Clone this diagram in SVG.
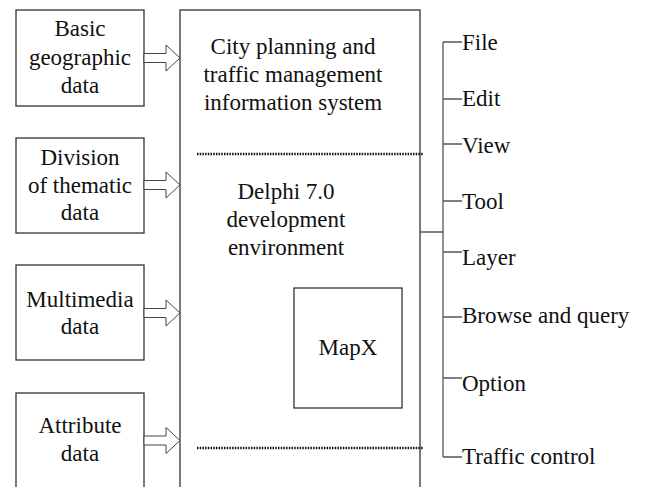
<svg xmlns="http://www.w3.org/2000/svg" width="646" height="487" viewBox="0 0 646 487">
<style>
.box{fill:#fff;stroke:#333;stroke-width:1.3}
.t{font-family:"Liberation Serif","Times New Roman",serif;font-size:23px;fill:#111}
.c{text-anchor:middle}
.arr{fill:#fff;stroke:#444;stroke-width:1}
.ln{fill:none;stroke:#555;stroke-width:1.3}
.dot{fill:none;stroke:#111;stroke-width:2.5;stroke-dasharray:1.5 1.2}
</style>
<rect width="646" height="487" fill="#fff"/>
<g id="main">
<rect class="box" x="180" y="10" width="240" height="490"/>
<text class="t c" x="293" y="54">City planning and</text>
<text class="t c" x="293" y="82">traffic management</text>
<text class="t c" x="293" y="110">information system</text>
<line class="dot" x1="197" y1="154" x2="423" y2="154"/>
<text class="t c" x="286" y="199">Delphi 7.0</text>
<text class="t c" x="286" y="227">development</text>
<text class="t c" x="286" y="255">environment</text>
<line class="dot" x1="197" y1="448" x2="423" y2="448"/>
</g>
<g id="mapx">
<rect class="box" x="294" y="288" width="108" height="120"/>
<text class="t c" x="348" y="355">MapX</text>
</g>
<g id="basic">
<rect class="box" x="16" y="10" width="128" height="96"/>
<text class="t c" x="80" y="36">Basic</text>
<text class="t c" x="80" y="65">geographic</text>
<text class="t c" x="80" y="93">data</text>
</g>
<g id="division">
<rect class="box" x="16" y="138" width="128" height="95"/>
<text class="t c" x="80" y="165">Division</text>
<text class="t c" x="80" y="193">of thematic</text>
<text class="t c" x="80" y="220">data</text>
</g>
<g id="multimedia">
<rect class="box" x="16" y="265" width="128" height="95"/>
<text class="t c" x="80" y="307">Multimedia</text>
<text class="t c" x="80" y="334">data</text>
</g>
<g id="attribute">
<rect class="box" x="16" y="393" width="128" height="110"/>
<text class="t c" x="80" y="433">Attribute</text>
<text class="t c" x="80" y="461">data</text>
</g>
<g id="menu">
<text class="t" x="462" y="50">File</text>
<text class="t" x="462" y="106">Edit</text>
<text class="t" x="462" y="153">View</text>
<text class="t" x="462" y="209">Tool</text>
<text class="t" x="462" y="265">Layer</text>
<text class="t" x="462" y="323">Browse and query</text>
<text class="t" x="462" y="391">Option</text>
<text class="t" x="462" y="464">Traffic control</text>
</g>
<g id="connectors">
<path class="arr" d="M144 53.5H166V45L180 58L166 71V62.5H144Z"/>
<path class="arr" d="M144 180.5H166V172L180 185L166 198V189.5H144Z"/>
<path class="arr" d="M144 308.5H166V300L180 313L166 326V317.5H144Z"/>
<path class="arr" d="M144 436H166V427.5L180 440.5L166 453.5V445H144Z"/>
<path class="ln" d="M420 232H443M443 42V457M443 42H462M443 99H462M443 144H462M443 201H462M443 252H462M443 317H462M443 378H462M443 457H462"/>
</g>
</svg>
